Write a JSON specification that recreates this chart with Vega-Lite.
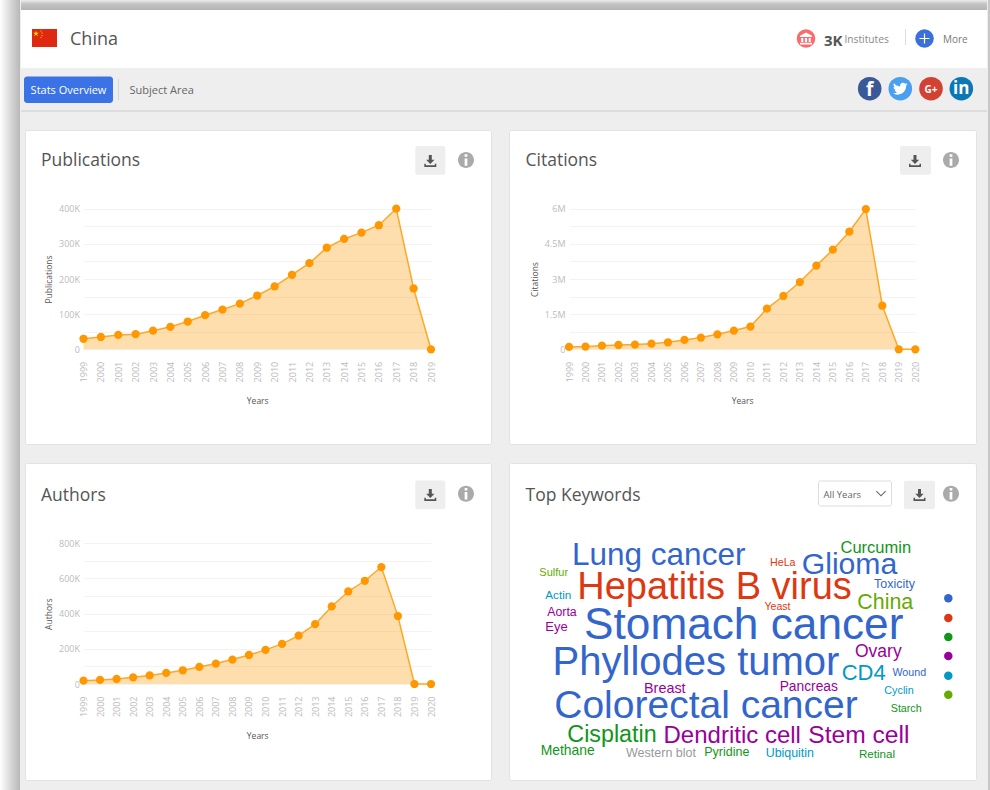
{
"$schema":"https://vega.github.io/schema/vega-lite/v6.json",
"background":"#eeeeee","padding":0,"spacing":0,
"data":{"values":[{"n":1}]},
"config":{"view":{"stroke":null},"axis":{"domain":false,"ticks":false,"labelFont":"Open Sans","labelFontSize":9,"labelColor":"#bbbbbb","labelOverlap":false,"labelFlush":false,"titleFont":"Open Sans","titleFontSize":8.5,"titleColor":"#555555","titleFontWeight":400,"gridColor":"#f3f3f3","gridWidth":1},"axisX":{"grid":false,"labelAngle":270,"labelPadding":12,"titlePadding":15},"axisY":{"labelPadding":4,"titlePadding":5},"text":{"font":"Open Sans"}},
"datasets":{
"pub":[{"year":1999,"v":30000},{"year":2000,"v":35000},{"year":2001,"v":41000},{"year":2002,"v":43000},{"year":2003,"v":53000},{"year":2004,"v":64000},{"year":2005,"v":79000},{"year":2006,"v":97000},{"year":2007,"v":113000},{"year":2008,"v":130000},{"year":2009,"v":153000},{"year":2010,"v":179000},{"year":2011,"v":212000},{"year":2012,"v":245000},{"year":2013,"v":289000},{"year":2014,"v":314000},{"year":2015,"v":332000},{"year":2016,"v":353000},{"year":2017,"v":400000},{"year":2018,"v":173000},{"year":2019,"v":0}],
"cit":[{"year":1999,"v":100000},{"year":2000,"v":115000},{"year":2001,"v":155000},{"year":2002,"v":185000},{"year":2003,"v":200000},{"year":2004,"v":240000},{"year":2005,"v":300000},{"year":2006,"v":400000},{"year":2007,"v":500000},{"year":2008,"v":640000},{"year":2009,"v":800000},{"year":2010,"v":970000},{"year":2011,"v":1735000},{"year":2012,"v":2275000},{"year":2013,"v":2870000},{"year":2014,"v":3570000},{"year":2015,"v":4250000},{"year":2016,"v":5020000},{"year":2017,"v":5985000},{"year":2018,"v":1860000},{"year":2019,"v":0},{"year":2020,"v":0}],
"aut":[{"year":1999,"v":19000},{"year":2000,"v":23000},{"year":2001,"v":28500},{"year":2002,"v":38000},{"year":2003,"v":49000},{"year":2004,"v":63000},{"year":2005,"v":78000},{"year":2006,"v":97000},{"year":2007,"v":116000},{"year":2008,"v":139000},{"year":2009,"v":165000},{"year":2010,"v":194000},{"year":2011,"v":228000},{"year":2012,"v":275000},{"year":2013,"v":340000},{"year":2014,"v":441000},{"year":2015,"v":526000},{"year":2016,"v":587000},{"year":2017,"v":665000},{"year":2018,"v":386000},{"year":2019,"v":0},{"year":2020,"v":0}],
"words":[
{"word":"Lung cancer","cx":658.7,"cy":565,"score":31.5,"group":"c1"},
{"word":"Hepatitis B virus","cx":714.5,"cy":599.3,"score":38,"group":"c2"},
{"word":"Stomach cancer","cx":743.7,"cy":639.3,"score":44.2,"group":"c1"},
{"word":"Phyllodes tumor","cx":696,"cy":675,"score":40,"group":"c1"},
{"word":"Colorectal cancer","cx":706,"cy":718.3,"score":39,"group":"c1"},
{"word":"Glioma","cx":849.5,"cy":574,"score":30.2,"group":"c1"},
{"word":"Curcumin","cx":875.8,"cy":552.7,"score":16.5,"group":"c3"},
{"word":"HeLa","cx":782.8,"cy":566,"score":10.7,"group":"c2"},
{"word":"Toxicity","cx":894.5,"cy":588,"score":12.5,"group":"c1"},
{"word":"China","cx":885.3,"cy":609.3,"score":21.4,"group":"c6"},
{"word":"Yeast","cx":777.5,"cy":610,"score":10.6,"group":"c2"},
{"word":"Sulfur","cx":553.7,"cy":576.3,"score":11,"group":"c6"},
{"word":"Actin","cx":558.3,"cy":599,"score":11.7,"group":"c5"},
{"word":"Aorta","cx":562,"cy":615.7,"score":12.3,"group":"c4"},
{"word":"Eye","cx":556.5,"cy":630.7,"score":13,"group":"c4"},
{"word":"Ovary","cx":878.3,"cy":657.3,"score":17.5,"group":"c4"},
{"word":"CD4","cx":863.7,"cy":680,"score":22,"group":"c5"},
{"word":"Wound","cx":909.3,"cy":676,"score":10.7,"group":"c1"},
{"word":"Breast","cx":664.8,"cy":692.7,"score":14.4,"group":"c4"},
{"word":"Pancreas","cx":808.8,"cy":690.7,"score":13.8,"group":"c4"},
{"word":"Cyclin","cx":899,"cy":693.7,"score":10.8,"group":"c5"},
{"word":"Starch","cx":906.2,"cy":711.7,"score":10.7,"group":"c3"},
{"word":"Cisplatin","cx":612,"cy":741.7,"score":23.3,"group":"c3"},
{"word":"Dendritic cell","cx":732.2,"cy":743.3,"score":24,"group":"c4"},
{"word":"Stem cell","cx":858.8,"cy":743.3,"score":24.6,"group":"c4"},
{"word":"Methane","cx":567.7,"cy":755,"score":13.9,"group":"c3"},
{"word":"Western blot","cx":661,"cy":757.3,"score":12.5,"group":"c7"},
{"word":"Pyridine","cx":726.8,"cy":755.7,"score":12.5,"group":"c3"},
{"word":"Ubiquitin","cx":789.8,"cy":756.7,"score":12.4,"group":"c5"},
{"word":"Retinal","cx":877,"cy":758,"score":11.6,"group":"c3"}],
"dots":[{"group":"c1","cx":948.3,"cy":598.3},{"group":"c2","cx":948.3,"cy":618},{"group":"c3","cx":948.3,"cy":637},{"group":"c4","cx":948.3,"cy":656},{"group":"c5","cx":948.3,"cy":675.7},{"group":"c6","cx":948.3,"cy":694.7}]
},
"hconcat":[
{"width":20,"height":790,"mark":{"type":"rect","color":{"x1":0,"y1":0,"x2":1,"y2":0,"gradient":"linear","stops":[{"offset":0,"color":"#ffffff"},{"offset":0.65,"color":"#cfcfcf"},{"offset":1,"color":"#b8b8b8"}]}},"encoding":{"x":{"datum":0,"scale":{"domain":[0,20],"range":[0,20]},"axis":null},"x2":{"datum":20},"y":{"datum":0,"scale":{"domain":[0,790],"range":[0,790]},"axis":null},"y2":{"datum":790}}},
{"vconcat":[
 {"spacing":0,"vconcat":[
  {"width":966,"height":10,"mark":{"type":"rect","color":{"x1":0,"y1":0,"x2":0,"y2":1,"gradient":"linear","stops":[{"offset":0,"color":"#ececec"},{"offset":0.4,"color":"#c4c4c4"},{"offset":1,"color":"#b4b4b4"}]}},"encoding":{"x":{"datum":0,"scale":{"domain":[0,966],"range":[0,966]},"axis":null},"x2":{"datum":966},"y":{"datum":0,"scale":{"domain":[0,10],"range":[0,10]},"axis":null},"y2":{"datum":10}}},
  {"width":966,"height":102,"layer":[
   {"mark":{"type":"rect","color":"#ffffff"},"encoding":{"x":{"datum":21,"scale":{"domain":[21,987],"range":[0,966]},"axis":null},"x2":{"datum":987},"y":{"datum":10,"scale":{"domain":[10,112],"range":[0,102]},"axis":null},"y2":{"datum":68}}},
   {"mark":{"type":"rule","color":"#dcdcdc","size":2},"encoding":{"x":{"datum":21,"scale":{"domain":[21,987],"range":[0,966]},"axis":null},"x2":{"datum":987},"y":{"datum":111,"scale":{"domain":[10,112],"range":[0,102]},"axis":null}}},
   {"mark":{"type":"rect","color":"#de2910"},"encoding":{"x":{"datum":32,"scale":{"domain":[21,987],"range":[0,966]},"axis":null},"x2":{"datum":57},"y":{"datum":29,"scale":{"domain":[10,112],"range":[0,102]},"axis":null},"y2":{"datum":47}}},
   {"mark":{"type":"point","filled":true,"color":"#ffde00","opacity":1,"size":100,"shape":"M-.6 -.66L-.468 -.246L-.03 -.246L-.384 .012L-.246 .426L-.6 .168L-.954 .426L-.816 .012L-1.17 -.246L-.732 -.246ZM.3 -.7h.2v.2h-.2zM.5 -.3h.2v.2h-.2zM.5 .2h.2v.2h-.2zM.3 .6h.2v.2h-.2z"},"encoding":{"x":{"datum":39,"scale":{"domain":[21,987],"range":[0,966]},"axis":null},"y":{"datum":34,"scale":{"domain":[10,112],"range":[0,102]},"axis":null}}},
   {"mark":{"type":"text","text":"China","align":"left","baseline":"middle","fontSize":18,"color":"#555555"},"encoding":{"x":{"datum":70,"scale":{"domain":[21,987],"range":[0,966]},"axis":null},"y":{"datum":40,"scale":{"domain":[10,112],"range":[0,102]},"axis":null}}},
   {"mark":{"type":"point","shape":"circle","filled":true,"color":"#fb6a6e","opacity":1,"size":346},"encoding":{"x":{"datum":806,"scale":{"domain":[21,987],"range":[0,966]},"axis":null},"y":{"datum":38.5,"scale":{"domain":[10,112],"range":[0,102]},"axis":null}}},
   {"mark":{"type":"point","filled":true,"color":"#ffffff","opacity":1,"size":144,"shape":"M0,-1L1,-0.45V-0.25H-1V-0.45ZM-0.8,-0.1H-0.45V0.6H-0.8ZM-0.18,-0.1H0.18V0.6H-0.18ZM0.45,-0.1H0.8V0.6H0.45ZM-1,0.7H1V1H-1Z"},"encoding":{"x":{"datum":806,"scale":{"domain":[21,987],"range":[0,966]},"axis":null},"y":{"datum":38.5,"scale":{"domain":[10,112],"range":[0,102]},"axis":null}}},
   {"mark":{"type":"text","text":"3K","align":"left","baseline":"middle","fontSize":15,"fontWeight":700,"color":"#555555"},"encoding":{"x":{"datum":824,"scale":{"domain":[21,987],"range":[0,966]},"axis":null},"y":{"datum":40.5,"scale":{"domain":[10,112],"range":[0,102]},"axis":null}}},
   {"mark":{"type":"text","text":"Institutes","align":"left","baseline":"middle","fontSize":10.2,"color":"#888888"},"encoding":{"x":{"datum":844.5,"scale":{"domain":[21,987],"range":[0,966]},"axis":null},"y":{"datum":40,"scale":{"domain":[10,112],"range":[0,102]},"axis":null}}},
   {"mark":{"type":"rule","color":"#dddddd"},"encoding":{"x":{"datum":905.5,"scale":{"domain":[21,987],"range":[0,966]},"axis":null},"y":{"datum":29,"scale":{"domain":[10,112],"range":[0,102]},"axis":null},"y2":{"datum":45}}},
   {"mark":{"type":"point","shape":"circle","filled":true,"color":"#3b6fdc","opacity":1,"size":346},"encoding":{"x":{"datum":924.5,"scale":{"domain":[21,987],"range":[0,966]},"axis":null},"y":{"datum":38.5,"scale":{"domain":[10,112],"range":[0,102]},"axis":null}}},
   {"mark":{"type":"point","filled":true,"color":"#ffffff","opacity":1,"size":100,"shape":"M-0.12,-1H0.12V-0.12H1V0.12H0.12V1H-0.12V0.12H-1V-0.12H-0.12Z"},"encoding":{"x":{"datum":924.5,"scale":{"domain":[21,987],"range":[0,966]},"axis":null},"y":{"datum":38.5,"scale":{"domain":[10,112],"range":[0,102]},"axis":null}}},
   {"mark":{"type":"text","text":"More","align":"left","baseline":"middle","fontSize":10,"color":"#777777"},"encoding":{"x":{"datum":943,"scale":{"domain":[21,987],"range":[0,966]},"axis":null},"y":{"datum":40,"scale":{"domain":[10,112],"range":[0,102]},"axis":null}}},
   {"mark":{"type":"rect","color":"#3b73e6","cornerRadius":3},"encoding":{"x":{"datum":24,"scale":{"domain":[21,987],"range":[0,966]},"axis":null},"x2":{"datum":113},"y":{"datum":76.5,"scale":{"domain":[10,112],"range":[0,102]},"axis":null},"y2":{"datum":103}}},
   {"mark":{"type":"text","text":"Stats Overview","align":"center","baseline":"middle","fontSize":11,"color":"#ffffff"},"encoding":{"x":{"datum":68.5,"scale":{"domain":[21,987],"range":[0,966]},"axis":null},"y":{"datum":91,"scale":{"domain":[10,112],"range":[0,102]},"axis":null}}},
   {"mark":{"type":"rule","color":"#d5d5d5"},"encoding":{"x":{"datum":118.5,"scale":{"domain":[21,987],"range":[0,966]},"axis":null},"y":{"datum":79,"scale":{"domain":[10,112],"range":[0,102]},"axis":null},"y2":{"datum":100}}},
   {"mark":{"type":"text","text":"Subject Area","align":"left","baseline":"middle","fontSize":11,"color":"#666666"},"encoding":{"x":{"datum":129.5,"scale":{"domain":[21,987],"range":[0,966]},"axis":null},"y":{"datum":91,"scale":{"domain":[10,112],"range":[0,102]},"axis":null}}},
   {"mark":{"type":"point","shape":"circle","filled":true,"color":"#3b5998","opacity":1,"size":556},"encoding":{"x":{"datum":869.7,"scale":{"domain":[21,987],"range":[0,966]},"axis":null},"y":{"datum":88.7,"scale":{"domain":[10,112],"range":[0,102]},"axis":null}}},
   {"mark":{"type":"text","text":"f","align":"center","baseline":"middle","fontSize":19,"fontWeight":700,"color":"#ffffff"},"encoding":{"x":{"datum":869.7,"scale":{"domain":[21,987],"range":[0,966]},"axis":null},"y":{"datum":89.5,"scale":{"domain":[10,112],"range":[0,102]},"axis":null}}},
   {"mark":{"type":"point","shape":"circle","filled":true,"color":"#4a9ff0","opacity":1,"size":556},"encoding":{"x":{"datum":900.3,"scale":{"domain":[21,987],"range":[0,966]},"axis":null},"y":{"datum":88.7,"scale":{"domain":[10,112],"range":[0,102]},"axis":null}}},
   {"mark":{"type":"point","filled":true,"color":"#ffffff","opacity":1,"size":1.5,"shape":"M11.953 -7.43 a10 10 0 0 1 -2.825 .775 a4.958 4.958 0 0 0 2.163 -2.723 c-.951 .555 -2.005 .959 -3.127 1.184 a4.92 4.92 0 0 0 -8.384 4.482 C-4.31 -3.905 -7.933 -5.87 -10.36 -8.838 a4.822 4.822 0 0 0 -.666 2.475 c0 1.71 .87 3.213 2.188 4.096 a4.904 4.904 0 0 1 -2.228 -.616 v.06 a4.923 4.923 0 0 0 3.946 4.827 a4.996 4.996 0 0 1 -2.212 .085 a4.936 4.936 0 0 0 4.604 3.417 a9.867 9.867 0 0 1 -6.102 2.105 c-.39 0 -.779 -.023 -1.17 -.067 a13.995 13.995 0 0 0 7.557 2.209 c9.053 0 13.998 -7.496 13.998 -13.985 c0 -.21 0 -.42 -.015 -.63 A9.935 9.935 0 0 0 12 -7.41 z"},"encoding":{"x":{"datum":900.3,"scale":{"domain":[21,987],"range":[0,966]},"axis":null},"y":{"datum":88.7,"scale":{"domain":[10,112],"range":[0,102]},"axis":null}}},
   {"mark":{"type":"point","shape":"circle","filled":true,"color":"#d24232","opacity":1,"size":556},"encoding":{"x":{"datum":931,"scale":{"domain":[21,987],"range":[0,966]},"axis":null},"y":{"datum":88.7,"scale":{"domain":[10,112],"range":[0,102]},"axis":null}}},
   {"mark":{"type":"text","text":"G+","align":"center","baseline":"middle","fontSize":10,"fontWeight":700,"color":"#ffffff"},"encoding":{"x":{"datum":931,"scale":{"domain":[21,987],"range":[0,966]},"axis":null},"y":{"datum":89.5,"scale":{"domain":[10,112],"range":[0,102]},"axis":null}}},
   {"mark":{"type":"point","shape":"circle","filled":true,"color":"#0b77b5","opacity":1,"size":556},"encoding":{"x":{"datum":961.3,"scale":{"domain":[21,987],"range":[0,966]},"axis":null},"y":{"datum":88.7,"scale":{"domain":[10,112],"range":[0,102]},"axis":null}}},
   {"mark":{"type":"text","text":"in","align":"center","baseline":"middle","fontSize":17,"fontWeight":700,"color":"#ffffff"},"encoding":{"x":{"datum":961.3,"scale":{"domain":[21,987],"range":[0,966]},"axis":null},"y":{"datum":89,"scale":{"domain":[10,112],"range":[0,102]},"axis":null}}}
  ]}
 ]},
 {"spacing":0,"hconcat":[
  {"width":3,"height":1,"data":{"values":[]},"mark":"rule","encoding":{}},
  {"spacing":16,"hconcat":[
   {"width":466,"height":314,"view":{"fill":"#ffffff","stroke":"#e2e2e2","cornerRadius":2},
    "title":{"text":"Publications","anchor":"start","frame":"group","dx":16,"offset":-39,"fontSize":17.5,"font":"Open Sans","fontWeight":400,"color":"#555555"},
    "resolve":{"scale":{"x":"independent","y":"independent"}},
    "layer":[
     {"data":{"name":"pub"},"encoding":{"x":{"field":"year","type":"quantitative","scale":{"domain":[1999,2019],"range":[58.5,406],"nice":false,"zero":false},"axis":{"title":"Years","offset":-94.7,"values":[1999,2000,2001,2002,2003,2004,2005,2006,2007,2008,2009,2010,2011,2012,2013,2014,2015,2016,2017,2018,2019],"format":"d"}},"y":{"field":"v","type":"quantitative","scale":{"domain":[0,400000],"range":[219.3,78.7],"nice":false},"axis":{"title":"Publications","offset":-58.5,"values":[0,50000,100000,150000,200000,250000,300000,350000,400000],"labelExpr":"datum.value%100000==0?(datum.value==0?'0':datum.value/1000+'K'):''"}}},
      "layer":[{"mark":{"type":"area","color":"#ff9800","opacity":0.32}},{"mark":{"type":"line","color":"#ffa726","strokeWidth":1.5}},{"mark":{"type":"point","shape":"circle","filled":true,"color":"#ff9800","opacity":1,"size":68}}]},
     {"layer":[
      {"mark":{"type":"rect","color":"#eeeeee","cornerRadius":2},"encoding":{"x":{"datum":415.3,"scale":{"domain":[25,491],"range":[0,466]},"axis":null},"x2":{"datum":445.3},"y":{"datum":146,"scale":{"domain":[130,444],"range":[0,314]},"axis":null},"y2":{"datum":174.7}}},
      {"mark":{"type":"point","filled":true,"color":"#555555","opacity":1,"size":144,"shape":"M-0.25,-1H0.25V-0.2H0.7L0,0.5L-0.7,-0.2H-0.25ZM-1,0.45H-0.75V0.72H0.75V0.45H1V1H-1Z"},"encoding":{"x":{"datum":430.3,"scale":{"domain":[25,491],"range":[0,466]},"axis":null},"y":{"datum":161,"scale":{"domain":[130,444],"range":[0,314]},"axis":null}}},
      {"mark":{"type":"point","filled":true,"color":"#aaaaaa","opacity":1,"size":256,"shape":"M0,-1A1,1 0 1 1 0,1A1,1 0 1 1 0,-1ZM-0.17,-0.72V-0.4H0.17V-0.72ZM-0.17,-0.2V0.72H0.17V-0.2Z"},"encoding":{"x":{"datum":466,"scale":{"domain":[25,491],"range":[0,466]},"axis":null},"y":{"datum":160,"scale":{"domain":[130,444],"range":[0,314]},"axis":null}}}
     ]}
    ]},
   {"width":467,"height":314,"view":{"fill":"#ffffff","stroke":"#e2e2e2","cornerRadius":2},
    "title":{"text":"Citations","anchor":"start","frame":"group","dx":16.5,"offset":-39,"fontSize":17.5,"font":"Open Sans","fontWeight":400,"color":"#555555"},
    "resolve":{"scale":{"x":"independent","y":"independent"}},
    "layer":[
     {"data":{"name":"cit"},"encoding":{"x":{"field":"year","type":"quantitative","scale":{"domain":[1999,2020],"range":[60,406.3],"nice":false,"zero":false},"axis":{"title":"Years","offset":-94.7,"values":[1999,2000,2001,2002,2003,2004,2005,2006,2007,2008,2009,2010,2011,2012,2013,2014,2015,2016,2017,2018,2019,2020],"format":"d"}},"y":{"field":"v","type":"quantitative","scale":{"domain":[0,6000000],"range":[219.3,78.7],"nice":false},"axis":{"title":"Citations","offset":-60,"values":[0,750000,1500000,2250000,3000000,3750000,4500000,5250000,6000000],"labelExpr":"datum.value%1500000==0?(datum.value==0?'0':datum.value/1000000+'M'):''"}}},
      "layer":[{"mark":{"type":"area","color":"#ff9800","opacity":0.32}},{"mark":{"type":"line","color":"#ffa726","strokeWidth":1.5}},{"mark":{"type":"point","shape":"circle","filled":true,"color":"#ff9800","opacity":1,"size":68}}]},
     {"layer":[
      {"mark":{"type":"rect","color":"#eeeeee","cornerRadius":2},"encoding":{"x":{"datum":900,"scale":{"domain":[509,976],"range":[0,467]},"axis":null},"x2":{"datum":931},"y":{"datum":146,"scale":{"domain":[130,444],"range":[0,314]},"axis":null},"y2":{"datum":174.7}}},
      {"mark":{"type":"point","filled":true,"color":"#555555","opacity":1,"size":144,"shape":"M-0.25,-1H0.25V-0.2H0.7L0,0.5L-0.7,-0.2H-0.25ZM-1,0.45H-0.75V0.72H0.75V0.45H1V1H-1Z"},"encoding":{"x":{"datum":915,"scale":{"domain":[509,976],"range":[0,467]},"axis":null},"y":{"datum":161,"scale":{"domain":[130,444],"range":[0,314]},"axis":null}}},
      {"mark":{"type":"point","filled":true,"color":"#aaaaaa","opacity":1,"size":256,"shape":"M0,-1A1,1 0 1 1 0,1A1,1 0 1 1 0,-1ZM-0.17,-0.72V-0.4H0.17V-0.72ZM-0.17,-0.2V0.72H0.17V-0.2Z"},"encoding":{"x":{"datum":951,"scale":{"domain":[509,976],"range":[0,467]},"axis":null},"y":{"datum":160,"scale":{"domain":[130,444],"range":[0,314]},"axis":null}}}
     ]}
    ]}
  ]}
 ]},
 {"spacing":0,"hconcat":[
  {"width":3,"height":1,"data":{"values":[]},"mark":"rule","encoding":{}},
  {"spacing":16,"hconcat":[
   {"width":466,"height":317,"view":{"fill":"#ffffff","stroke":"#e2e2e2","cornerRadius":2},
    "title":{"text":"Authors","anchor":"start","frame":"group","dx":16,"offset":-41,"fontSize":17.5,"font":"Open Sans","fontWeight":400,"color":"#555555"},
    "resolve":{"scale":{"x":"independent","y":"independent"}},
    "layer":[
     {"data":{"name":"aut"},"encoding":{"x":{"field":"year","type":"quantitative","scale":{"domain":[1999,2020],"range":[58.5,406],"nice":false,"zero":false},"axis":{"title":"Years","offset":-96,"values":[1999,2000,2001,2002,2003,2004,2005,2006,2007,2008,2009,2010,2011,2012,2013,2014,2015,2016,2017,2018,2019,2020],"format":"d"}},"y":{"field":"v","type":"quantitative","scale":{"domain":[0,800000],"range":[221,80.3],"nice":false},"axis":{"title":"Authors","offset":-58.5,"values":[0,100000,200000,300000,400000,500000,600000,700000,800000],"labelExpr":"datum.value%200000==0?(datum.value==0?'0':datum.value/1000+'K'):''"}}},
      "layer":[{"mark":{"type":"area","color":"#ff9800","opacity":0.32}},{"mark":{"type":"line","color":"#ffa726","strokeWidth":1.5}},{"mark":{"type":"point","shape":"circle","filled":true,"color":"#ff9800","opacity":1,"size":68}}]},
     {"layer":[
      {"mark":{"type":"rect","color":"#eeeeee","cornerRadius":2},"encoding":{"x":{"datum":415.3,"scale":{"domain":[25,491],"range":[0,466]},"axis":null},"x2":{"datum":445.3},"y":{"datum":480.5,"scale":{"domain":[463,780],"range":[0,317]},"axis":null},"y2":{"datum":509}}},
      {"mark":{"type":"point","filled":true,"color":"#555555","opacity":1,"size":144,"shape":"M-0.25,-1H0.25V-0.2H0.7L0,0.5L-0.7,-0.2H-0.25ZM-1,0.45H-0.75V0.72H0.75V0.45H1V1H-1Z"},"encoding":{"x":{"datum":430.3,"scale":{"domain":[25,491],"range":[0,466]},"axis":null},"y":{"datum":495,"scale":{"domain":[463,780],"range":[0,317]},"axis":null}}},
      {"mark":{"type":"point","filled":true,"color":"#aaaaaa","opacity":1,"size":256,"shape":"M0,-1A1,1 0 1 1 0,1A1,1 0 1 1 0,-1ZM-0.17,-0.72V-0.4H0.17V-0.72ZM-0.17,-0.2V0.72H0.17V-0.2Z"},"encoding":{"x":{"datum":466,"scale":{"domain":[25,491],"range":[0,466]},"axis":null},"y":{"datum":493.7,"scale":{"domain":[463,780],"range":[0,317]},"axis":null}}}
     ]}
    ]},
   {"width":467,"height":317,"view":{"fill":"#ffffff","stroke":"#e2e2e2","cornerRadius":2},
    "title":{"text":"Top Keywords","anchor":"start","frame":"group","dx":16.5,"offset":-41,"fontSize":17.5,"font":"Open Sans","fontWeight":400,"color":"#555555"},
    "layer":[
     {"mark":{"type":"rect","color":"#ffffff","stroke":"#dddddd","cornerRadius":2},"encoding":{"x":{"datum":818.5,"scale":{"domain":[509,976],"range":[0,467]},"axis":null},"x2":{"datum":891.5},"y":{"datum":481,"scale":{"domain":[463,780],"range":[0,317]},"axis":null},"y2":{"datum":506}}},
     {"mark":{"type":"text","text":"All Years","align":"left","baseline":"middle","fontSize":9.5,"color":"#666666"},"encoding":{"x":{"datum":823.5,"scale":{"domain":[509,976],"range":[0,467]},"axis":null},"y":{"datum":495,"scale":{"domain":[463,780],"range":[0,317]},"axis":null}}},
     {"mark":{"type":"point","filled":true,"color":"#666666","opacity":1,"size":100,"shape":"M-1,-0.5L0,0.5L1,-0.5L0.85,-0.65L0,0.2L-0.85,-0.65Z"},"encoding":{"x":{"datum":881,"scale":{"domain":[509,976],"range":[0,467]},"axis":null},"y":{"datum":494,"scale":{"domain":[463,780],"range":[0,317]},"axis":null}}},
     {"mark":{"type":"rect","color":"#eeeeee","cornerRadius":2},"encoding":{"x":{"datum":904,"scale":{"domain":[509,976],"range":[0,467]},"axis":null},"x2":{"datum":935},"y":{"datum":480.7,"scale":{"domain":[463,780],"range":[0,317]},"axis":null},"y2":{"datum":509}}},
     {"mark":{"type":"point","filled":true,"color":"#555555","opacity":1,"size":144,"shape":"M-0.25,-1H0.25V-0.2H0.7L0,0.5L-0.7,-0.2H-0.25ZM-1,0.45H-0.75V0.72H0.75V0.45H1V1H-1Z"},"encoding":{"x":{"datum":919.5,"scale":{"domain":[509,976],"range":[0,467]},"axis":null},"y":{"datum":495,"scale":{"domain":[463,780],"range":[0,317]},"axis":null}}},
     {"mark":{"type":"point","filled":true,"color":"#aaaaaa","opacity":1,"size":256,"shape":"M0,-1A1,1 0 1 1 0,1A1,1 0 1 1 0,-1ZM-0.17,-0.72V-0.4H0.17V-0.72ZM-0.17,-0.2V0.72H0.17V-0.2Z"},"encoding":{"x":{"datum":951,"scale":{"domain":[509,976],"range":[0,467]},"axis":null},"y":{"datum":493.7,"scale":{"domain":[463,780],"range":[0,317]},"axis":null}}},
     {"data":{"name":"words"},"mark":{"type":"text","font":"Liberation Sans","align":"center","baseline":"alphabetic"},"encoding":{"x":{"field":"cx","type":"quantitative","scale":{"domain":[509,976],"range":[0,467]},"axis":null},"y":{"field":"cy","type":"quantitative","scale":{"domain":[463,780],"range":[0,317]},"axis":null},"text":{"field":"word"},"size":{"field":"score","type":"quantitative","scale":{"type":"linear","domain":[0,50],"range":[0,50]},"legend":null},"color":{"field":"group","type":"nominal","scale":{"domain":["c1","c2","c3","c4","c5","c6","c7"],"range":["#3366cc","#dc3912","#109618","#990099","#0099c6","#66aa00","#999999"]},"legend":null}}},
     {"data":{"name":"dots"},"mark":{"type":"circle","opacity":1,"size":72},"encoding":{"x":{"field":"cx","type":"quantitative","scale":{"domain":[509,976],"range":[0,467]},"axis":null},"y":{"field":"cy","type":"quantitative","scale":{"domain":[463,780],"range":[0,317]},"axis":null},"color":{"field":"group","type":"nominal","scale":{"domain":["c1","c2","c3","c4","c5","c6","c7"],"range":["#3366cc","#dc3912","#109618","#990099","#0099c6","#66aa00","#999999"]},"legend":null}}}
    ]}
  ]}
 ]}
],"spacing":17},
{"width":4,"height":790,"mark":{"type":"rect","color":"#c8c8c8"},"encoding":{"x":{"datum":0,"scale":{"domain":[0,4],"range":[0,4]},"axis":null},"x2":{"datum":4},"y":{"datum":0,"scale":{"domain":[0,790],"range":[0,790]},"axis":null},"y2":{"datum":790}}}
]}
